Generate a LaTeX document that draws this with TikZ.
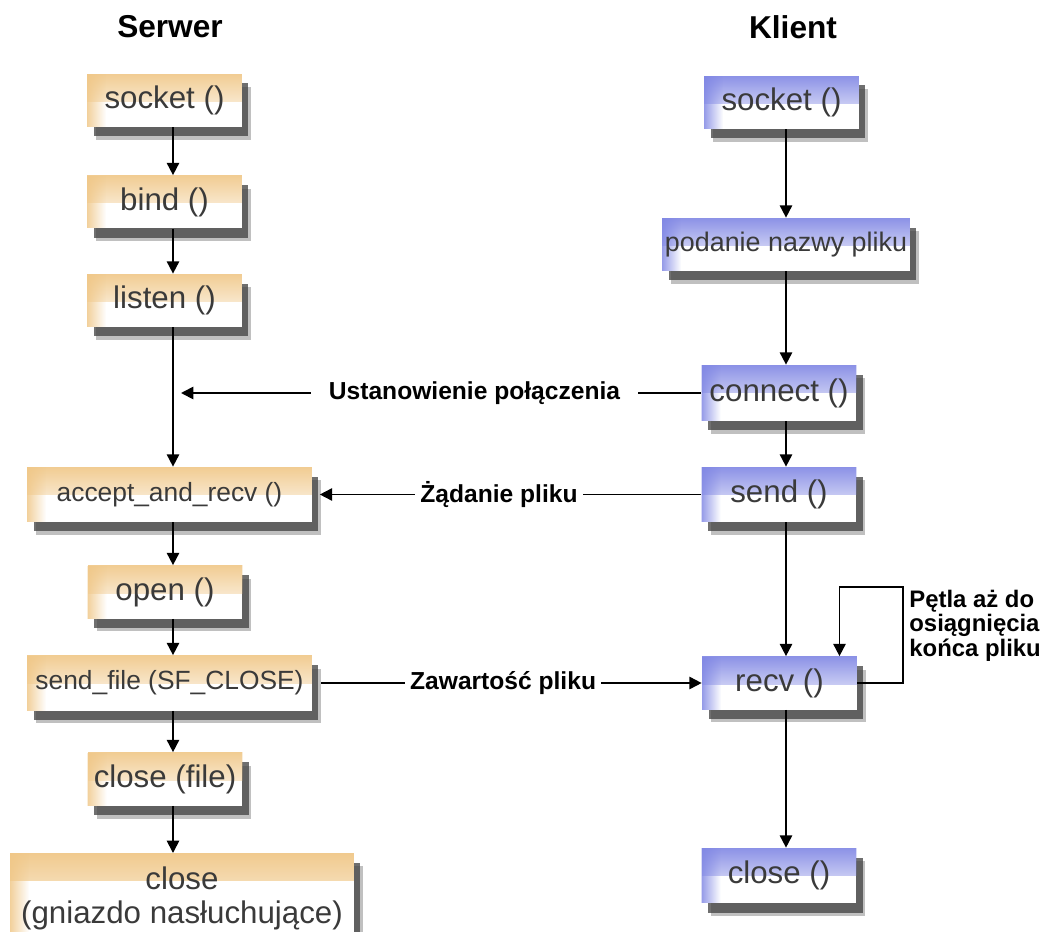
\documentclass[tikz,border=0pt]{standalone}
\usepackage{fontspec}
\setmainfont{Liberation Sans}
\usetikzlibrary{arrows.meta,shadows,fadings}

\definecolor{srvedge}{HTML}{F0C787}
\definecolor{cliedge}{HTML}{7F86E4}
\definecolor{boxtext}{HTML}{3A3A3A}

\tikzfading[name=fadedown, top color=transparent!0, bottom color=transparent!100]
\tikzfading[name=faderight, left color=transparent!0, right color=transparent!100]

\tikzset{
  callbox/.style={fill=white, inner sep=0pt, text=boxtext,
    font=\fontsize{17.8}{21}\selectfont,
    drop shadow={shadow xshift=0.18cm, shadow yshift=-0.26cm, opacity=0.35, fill=black!70},
    drop shadow={shadow xshift=0.13cm, shadow yshift=-0.19cm, opacity=0.75, fill=black!75},
    path picture={
      \fill[#1, path fading=fadedown] ([yshift=0.12cm]path picture bounding box.north west)
        rectangle ([yshift=-0.56cm]path picture bounding box.north east);
      \fill[#1, path fading=faderight] ([xshift=-0.08cm]path picture bounding box.north west)
        rectangle ([xshift=0.38cm]path picture bounding box.south west);
    }},
  srvbox/.style={callbox=srvedge},
  clibox/.style={callbox=cliedge},
  short/.style={minimum width=3.1cm, minimum height=1.06cm},
  wide/.style={minimum width=5.7cm, minimum height=1.1cm, font=\fontsize{15}{18}\selectfont},
  flow/.style={line width=1pt, -{Triangle[length=7pt,width=7pt]}},
  msg/.style={font=\bfseries\fontsize{14}{16}\selectfont, fill=white, inner xsep=3pt, inner ysep=1pt},
  title/.style={font=\bfseries\fontsize{18}{20}\selectfont}
}

\begin{document}
\begin{tikzpicture}[x=0.02cm, y=-0.02cm]
  \useasboundingbox[fill=white] (0,0) rectangle (1047,932);

  % column headings
  \node[title] (tsrv) at (170,27) {Serwer};
  \node[title] (tcli) at (793,27) {Klient};

  % server calls
  \node[srvbox, short] (ssocket) at (164.5,100.5) {socket ()};
  \node[srvbox, short] (sbind)   at (164.5,202)   {bind ()};
  \node[srvbox, short] (slisten) at (164.5,300.5) {listen ()};
  \node[srvbox, wide]  (saccept) at (169.5,494.5) {accept\_and\_recv ()};
  \node[srvbox, short] (sopen)   at (165,592)     {open ()};
  \node[srvbox, wide]  (ssend)   at (169.5,683)   {send\_file (SF\_CLOSE)};
  \node[srvbox, short] (sclosef) at (165,779)     {close (file)};
  \node[srvbox, minimum width=6.88cm, minimum height=1.8cm, anchor=north,
        align=center, font=\fontsize{17.8}{19.5}\selectfont]
       (sclose) at (182,853) {close\\(gniazdo nasłuchujące)};

  % client calls
  \node[clibox, short] (csocket) at (781.5,102.5) {socket ()};
  \node[clibox, minimum width=4.96cm, minimum height=1.06cm,
        font=\fontsize{15.3}{18}\selectfont] (cname) at (786,244.5) {podanie nazwy pliku};
  \node[clibox, short, minimum height=1.12cm] (cconn) at (779,393) {connect ()};
  \node[clibox, short, minimum height=1.1cm]  (csend) at (779,494.5) {send ()};
  \node[clibox, short] (crecv)   at (779.5,683)   {recv ()};
  \node[clibox, short, minimum height=1.1cm]  (cclose) at (779,875.5) {close ()};

  \coordinate (scol) at (173,0);
  \coordinate (ccol) at (786,0);

  % down the columns
  \foreach \a/\b in {ssocket/sbind, sbind/slisten, slisten/saccept, saccept/sopen,
                     sopen/ssend, ssend/sclosef, sclosef/sclose}
    \draw[flow] (\a.south -| scol) -- (\b.north -| scol);
  \foreach \a/\b in {csocket/cname, cname/cconn, cconn/csend, csend/crecv, crecv/cclose}
    \draw[flow] (\a.south -| ccol) -- (\b.north -| ccol);

  % between the columns
  \node[msg, inner xsep=0.36cm] (lconn) at (474.5,393) {Ustanowienie połączenia};
  \coordinate (tconn) at (181,393);
  \draw[line width=1pt] (cconn.west) -- (lconn.east);
  \draw[flow] (lconn.west) -- (tconn);
  \draw[flow, shorten >=0.15cm] (csend.west) -- node[msg, pos=0.52] (lreq) {Żądanie pliku} (saccept.east);
  \draw[flow, shorten <=0.18cm] (ssend.east) -- node[msg, pos=0.49] (lfile) {Zawartość pliku} (crecv.west);

  % recv loop
  \coordinate (lpt) at (903,587);
  \draw[flow] (crecv.east) -| (lpt) -| ([xshift=1.2cm]crecv.north);
  \node[msg, fill=none, inner sep=0pt, anchor=north west, align=left,
        font=\bfseries\fontsize{13.6}{13.8}\selectfont] (lloop) at (909,590)
       {Pętla aż do\\osiągnięcia\\końca pliku};
\end{tikzpicture}
\end{document}
